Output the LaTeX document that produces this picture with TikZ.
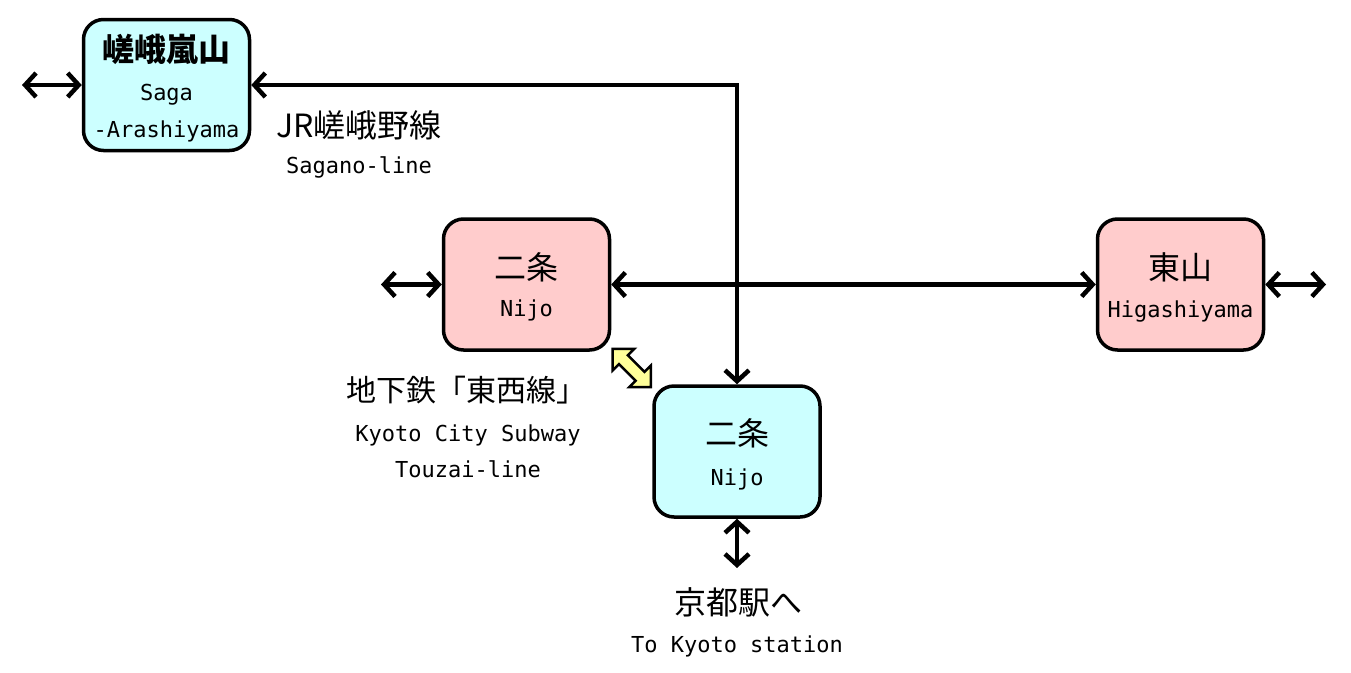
\documentclass[tikz,border=0pt]{standalone}
\usepackage{fontspec}
\setmainfont{DejaVu Sans Mono}
\newfontfamily\jp{Noto Sans CJK JP}
\usetikzlibrary{arrows.meta,shapes.arrows,calc}
\definecolor{jrcyan}{HTML}{CCFFFF}
\definecolor{subpink}{HTML}{FFCCCC}
\definecolor{xferyellow}{HTML}{FFFF99}
\begin{document}
\begin{tikzpicture}[x=1pt,y=-1pt,
  station/.style={draw, line width=3.5pt, rounded corners=20pt, minimum width=166pt, minimum height=131pt, inner sep=0pt},
  jrbox/.style={station, fill=jrcyan},
  subbox/.style={station, fill=subpink},
  link/.style={line width=4.5pt, {Straight Barb[length=11pt,width=24pt]}-{Straight Barb[length=11pt,width=24pt]}},
  jptext/.style={font=\jp\fontsize{32}{36}\selectfont, inner sep=0pt},
  entext/.style={font=\fontsize{22}{26}\selectfont, inner sep=0pt, anchor=base},
]
\useasboundingbox (0,0) rectangle (1351,672);
% stations
\node[jrbox] (sa) at (166.5,85) {};
\node[subbox] (np) at (526.5,284.5) {};
\node[subbox] (hg) at (1180.5,284.5) {};
\node[jrbox] (nc) at (737,451.5) {};
% free ends
\coordinate (saw) at (22,85);
\coordinate (npw) at (381,284.5);
\coordinate (hge) at (1326,284.5);
\coordinate (ncs) at (737,568);
% connectors
\draw[link] (saw) -- (sa.west);
\draw[link] (sa.east) -| (nc.north);
\draw[link] (npw) -- (np.west);
\draw[link] (np.east) -- (hg.west);
\draw[link] (hg.east) -- (hge);
\draw[link] (nc.south) -- (ncs);
% transfer
\node[double arrow, draw, line width=2.5pt, fill=xferyellow, minimum height=54pt, inner sep=5pt, double arrow head extend=9pt, rotate=-45] (xf) at ($(np.south east)!0.5!(nc.north west)$) {};
% station texts
\node[jptext, font=\jp\bfseries\fontsize{32}{36}\selectfont] (sa1) at (166.5,49) {嵯峨嵐山};
\node[entext] (sa2) at (166.5,100) {Saga};
\node[entext] (sa3) at (166.5,137) {-Arashiyama};
\node[jptext] (np1) at (526.5,267) {二条};
\node[entext] (np2) at (526.5,316) {Nijo};
\node[jptext] (hg1) at (1180.5,267) {東山};
\node[entext] (hg2) at (1180.5,317) {Higashiyama};
\node[jptext] (nc1) at (737,433) {二条};
\node[entext] (nc2) at (737,485) {Nijo};
% line labels
\node[jptext] (jr1) at (359,125) {JR嵯峨野線};
\node[entext] (jr2) at (359,173) {Sagano-line};
\node[jptext, font=\jp\fontsize{30}{34}\selectfont] (tz1) at (466,390) {地下鉄「東西線」};
\node[entext] (tz2) at (468,441) {Kyoto City Subway};
\node[entext] (tz3) at (468,477) {Touzai-line};
\node[jptext] (ky1) at (738,602) {京都駅へ};
\node[entext] (ky2) at (737,652) {To Kyoto station};
\end{tikzpicture}
\end{document}
